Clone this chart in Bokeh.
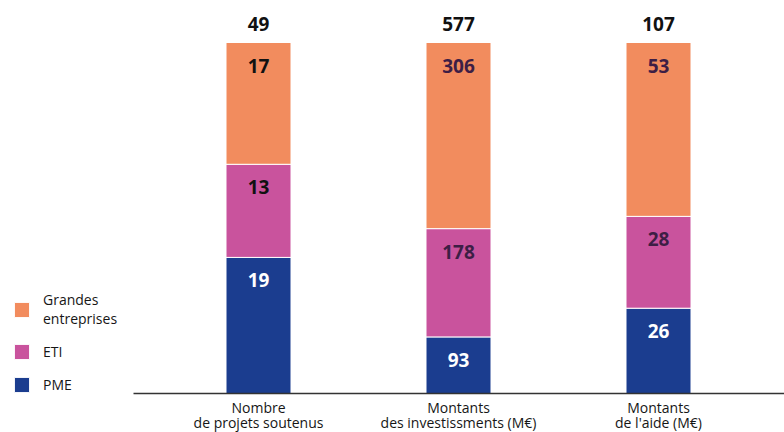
from bokeh.plotting import figure
from bokeh.models import Range1d, ColumnDataSource, Legend, LegendItem
from bokeh.core.properties import value
from bokeh.embed import file_html
from bokeh.resources import INLINE

categories = ["Nombre\nde projets soutenus", "Montants\ndes investissments (M€)", "Montants\nde l'aide (M€)"]
series_names = ["PME", "ETI", "Grandes\nentreprises"]
pme = [19, 93, 26]
eti = [13, 178, 28]
ge = [17, 306, 53]

colors = ["#1B3D8F", "#C9539D", "#F28C5E"]
FONT = "Open Sans"

totals = [a + b + c for a, b, c in zip(pme, eti, ge)]
xs = list(range(len(categories)))

p = figure(width=784, height=432, output_backend="svg", toolbar_location=None,
           x_range=Range1d(-1.29, 2.63), y_range=Range1d(-0.1111, 1.1197),
           min_border_left=0, min_border_right=0, min_border_top=0, min_border_bottom=0)
p.outline_line_color = None
p.grid.grid_line_color = None
p.axis.visible = False

bottom = [0.0] * 3
renderers = []
series = [pme, eti, ge]
label_colors = [["white"] * 3, ["#111111", "#3d1e45", "#3d1e45"], ["#111111", "#3d1e45", "#3d1e45"]]
for vals, col, lc in zip(series, colors, label_colors):
    shares = [v / t for v, t in zip(vals, totals)]
    tops = [b + s for b, s in zip(bottom, shares)]
    src = ColumnDataSource(dict(x=xs, bottom=bottom, top=tops, val=[str(v) for v in vals], lc=lc))
    r = p.vbar(x="x", bottom="bottom", top="top", width=0.325, source=src,
               fill_color=col, line_color="white", line_width=1)
    renderers.append(r)
    p.text(x="x", y="top", text="val", source=src, text_align="center", text_baseline="middle",
           y_offset=23, text_font=value(FONT), text_font_style="bold", text_font_size="19px",
           text_color="lc")
    bottom = tops

tsrc = ColumnDataSource(dict(x=xs, y=[1.0] * 3, t=[str(t) for t in totals]))
p.text(x="x", y="y", text="t", source=tsrc, text_align="center", text_baseline="middle",
       y_offset=-19, text_font=value(FONT), text_font_style="bold", text_font_size="19px",
       text_color="#111111")

# baseline (axis line)
p.segment(x0=[-0.625], x1=[2.63], y0=[0], y1=[0], line_color="#333333", line_width=1.5)

# category labels, one text glyph per line
lines = [c.split("\n") for c in categories]
for k, off in enumerate([14, 29]):
    csrc = ColumnDataSource(dict(x=xs, y=[0] * 3, t=[l[k] for l in lines]))
    p.text(x="x", y="y", text="t", source=csrc, text_align="center", text_baseline="middle",
           y_offset=off, text_font=value(FONT), text_font_size="14px", text_color="#161616")

items = [LegendItem(label=n, renderers=[r]) for n, r in zip(series_names, renderers)][::-1]
legend = Legend(items=items, location=(12, 38), glyph_width=19, glyph_height=19,
                label_standoff=12, label_text_font=FONT, label_text_font_size="14px",
                label_text_color="#161616", border_line_color=None, background_fill_alpha=0,
                spacing=14, padding=0, margin=0, label_text_line_height=1.0)
p.add_layout(legend, "center")

open("out.html", "w").write(file_html(p, INLINE))
